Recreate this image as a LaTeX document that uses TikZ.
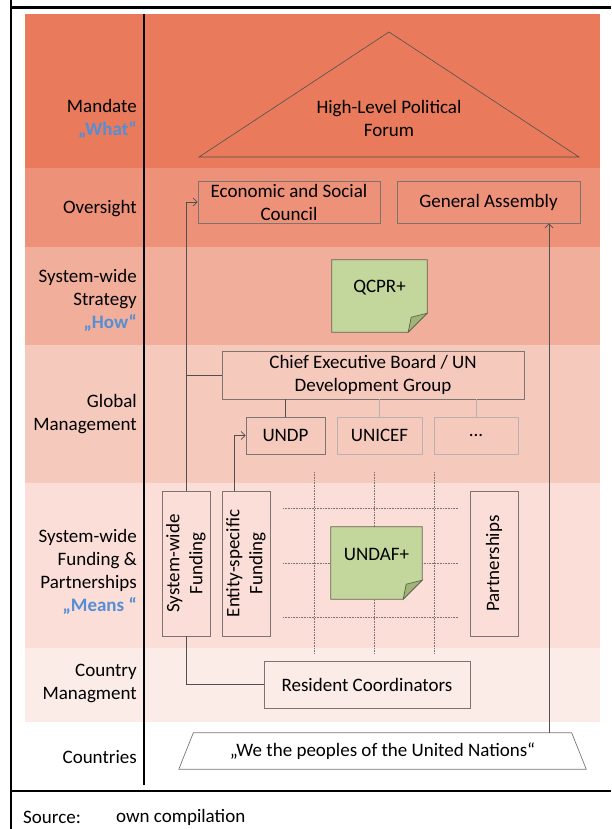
\documentclass[tikz,border=0pt]{standalone}
\usepackage{fontspec}
\setmainfont{Carlito}
\usetikzlibrary{arrows.meta}

\definecolor{mandatered}{RGB}{233,122,92}
\definecolor{oversightred}{RGB}{237,145,120}
\definecolor{strategyred}{RGB}{241,175,155}
\definecolor{globalred}{RGB}{246,201,189}
\definecolor{fundingred}{RGB}{250,222,215}
\definecolor{countryred}{RGB}{252,236,231}
\definecolor{quoteblue}{RGB}{85,142,213}
\definecolor{boxgray}{RGB}{125,115,112}
\definecolor{faintgray}{RGB}{185,175,172}
\definecolor{linkgray}{RGB}{80,80,80}
\definecolor{notegreen}{RGB}{195,214,155}
\definecolor{notefold}{RGB}{160,180,120}
\definecolor{noteedge}{RGB}{95,100,80}

% sticky note with turned corner
\newcommand\foldnote[1]{%
  \filldraw[fill=notegreen, draw=noteedge, line width=0.7pt] (#1.north west) -- (#1.north east) -- ([yshift=19pt]#1.south east) -- ([xshift=-19pt]#1.south east) -- (#1.south west) -- cycle;
  \filldraw[fill=notefold, draw=noteedge, line width=0.7pt] ([yshift=19pt]#1.south east) -- ([xshift=-16pt,yshift=15pt]#1.south east) -- ([xshift=-19pt]#1.south east) -- cycle;%
}

\begin{document}
\begin{tikzpicture}[x=1pt, y=-1pt]
        \tikzstyle{every node}=[font=\fontsize{19}{23}\selectfont, inner sep=0pt, align=center]
        \tikzstyle{lanelabel}=[anchor=east, align=right]
        \tikzstyle{orgbox}=[draw=boxgray, line width=0.7pt]
        \tikzstyle{faintbox}=[draw=faintgray, line width=0.7pt]
        \tikzstyle{notebody}=[minimum width=95pt, minimum height=72pt]
        \tikzstyle{link}=[draw=linkgray, line width=0.8pt]
        \tikzstyle{faintlink}=[draw=faintgray, line width=0.8pt]
        \tikzstyle{arrow}=[link, -{Straight Barb[length=4pt, width=8pt]}]
        \tikzstyle{gridline}=[draw=boxgray, densely dotted, line width=0.6pt]
        \useasboundingbox (0,0) rectangle (611,829);

        % bands
        \fill[mandatered] (25,14) rectangle (600,168);
        \fill[oversightred] (25,168) rectangle (600,247);
        \fill[strategyred] (25,247) rectangle (600,345);
        \fill[globalred] (25,345) rectangle (600,483);
        \fill[fundingred] (25,483) rectangle (600,648);
        \fill[countryred] (25,648) rectangle (600,722);

        % frame
        \draw[line width=2.5pt] (11,0) -- (11,829);
        \draw[line width=2.5pt] (11,7.5) -- (611,7.5);
        \draw[line width=2.5pt] (11,791) -- (611,791);
        \draw[line width=1.5pt] (144,14) -- (144,785);

        % lane labels
        \node[lanelabel] (mandate) at (137,118.5) {Mandate\\\textcolor{quoteblue}{\textbf{„What“}}};
        \node[lanelabel] (oversight) at (137,209) {Oversight};
        \node[lanelabel] (strategy) at (137,300) {System-wide\\Strategy\\\textcolor{quoteblue}{\textbf{„How“}}};
        \node[lanelabel] (globalmgmt) at (137,414.5) {Global\\Management};
        \node[lanelabel] (funding) at (137,571.5) {System-wide\\Funding \&\\Partnerships\\\textcolor{quoteblue}{\textbf{„Means “}}};
        \node[lanelabel] (countrymgmt) at (137,683.5) {Country\\Managment};
        \node[lanelabel] (countries) at (137,757) {Countries};

        % mandate
        \draw[line width=0.6pt, draw=linkgray] (199,157) -- (389,32) -- (579,157) -- cycle;
        \node (hlpf) at (389,118) {High-Level Political\\Forum};

        % oversight
        \node[orgbox, minimum width=182pt, minimum height=42pt] (ecosoc) at (289,202) {Economic and Social\\Council};
        \node[orgbox, minimum width=183pt, minimum height=42pt] (ga) at (488.5,202) {General Assembly};

        % strategy
        \node[notebody] (qcpr) at (379.5,296) {};
        \foldnote{qcpr}
        \node (qcprtext) at ([yshift=8pt]qcpr.center) {QCPR+};

        % global management
        \node[orgbox, minimum width=302pt, minimum height=48pt] (ceb) at (373,375) {Chief Executive Board / UN\\Development Group};
        \node[orgbox, minimum width=79pt, minimum height=37pt] (undp) at (285.5,435.5) {UNDP};
        \node[faintbox, minimum width=85pt, minimum height=37pt] (unicef) at (379.5,435.5) {UNICEF};
        \node[faintbox, minimum width=84pt, minimum height=37pt] (more) at (476,435.5) {...};
        \draw[link] (undp.north) -- (undp.north |- ceb.south);
        \draw[faintlink] (unicef.north) -- (unicef.north |- ceb.south);
        \draw[faintlink] (more.north) -- (more.north |- ceb.south);

        % funding and partnerships
        \foreach \gx in {314,374,434} \draw[gridline] (\gx,472) -- (\gx,654);
        \foreach \gy in {508,563,617} \draw[gridline] (283,\gy) -- (458,\gy);
        \node[orgbox, rotate=90, minimum width=145pt, minimum height=48pt] (swf) at (186,563.5) {System-wide\\Funding};
        \node[orgbox, rotate=90, minimum width=145pt, minimum height=48pt] (esf) at (246,563.5) {Entity-specific\\Funding};
        \node[orgbox, rotate=90, minimum width=145pt, minimum height=48pt] (partners) at (494,563.5) {Partnerships};
        \node[notebody, minimum width=91pt] (undaf) at (376.5,563) {};
        \foldnote{undaf}
        \node (undaftext) at ([yshift=9pt]undaf.center) {UNDAF+};

        % country level
        \node[orgbox, minimum width=206pt, minimum height=47pt] (rc) at (367,684.5) {Resident Coordinators};
        \node[minimum width=407pt, minimum height=36pt] (people) at (382.5,751) {„We the peoples of the United Nations“};
        \draw[draw=boxgray, line width=0.7pt] ([xshift=14.5pt]people.north west) -- ([xshift=-14.5pt]people.north east) -- (people.south east) -- (people.south west) -- cycle;

        % connectors
        \coordinate (esfout) at ([xshift=-12pt]esf.east);
        \coordinate (gain) at ([xshift=60.5pt]ga.south);
        \draw[arrow] (swf.east) |- (ecosoc.west);
        \draw[link] (swf.east |- ceb.west) -- (ceb.west);
        \draw[arrow] (esfout) |- (undp.west);
        \draw[link] (swf.west) |- (rc.west);
        \draw[arrow] (people.north -| gain) -- (gain);

        % source
        \node[anchor=west] (source) at (23,817) {Source:};
        \node[anchor=west] (compilation) at (116,817) {own compilation};
\end{tikzpicture}
\end{document}
